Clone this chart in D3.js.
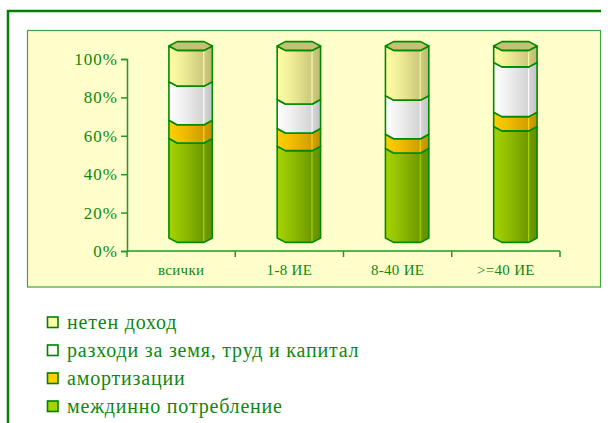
<!DOCTYPE html>
<html>
<head>
<meta charset="utf-8">
<script src="https://cdn.jsdelivr.net/npm/d3@7"></script>
<style>
  body { margin: 0; background: #fff; }
  svg { display: block; }
</style>
</head>
<body>
<div id="chart"></div>
<script>
// data
var categories = ["всички", "1-8 ИЕ", "8-40 ИЕ", ">=40 ИЕ"];
var seriesKeys = ["междинно потребление", "амортизации", "разходи за земя, труд и капитал", "нетен доход"];
var intermediate = [51.8, 47.8, 46.6, 58.1];
var depreciation = [9.5, 9.2, 7.4, 7.4];
var factorCosts = [20.1, 15.1, 20.1, 25.9];
var netIncome = [18.6, 27.9, 25.9, 8.6];
var yTicks = [0, 20, 40, 60, 80, 100];
var legendOrder = ["нетен доход", "разходи за земя, труд и капитал", "амортизации", "междинно потребление"];

var width = 608, height = 423;
var serif = "Liberation Serif";
var txtColor = "#0f870f";

var colors = {
  "междинно потребление": ["#a6d400", "#8fbc00", "#6f9a00"],
  "амортизации": ["#ffd000", "#f0bc00", "#d09f00"],
  "разходи за земя, труд и капитал": ["#ffffff", "#eeeeee", "#d4d4d4"],
  "нетен доход": ["#ffffa6", "#eeeb96", "#cdc97e"]
};

var rows = categories.map(function(c, i) {
  var r = {cat: c};
  r[seriesKeys[0]] = intermediate[i];
  r[seriesKeys[1]] = depreciation[i];
  r[seriesKeys[2]] = factorCosts[i];
  r[seriesKeys[3]] = netIncome[i];
  return r;
});

var stacked = d3.stack().keys(seriesKeys)(rows);

var svg = d3.select("#chart").append("svg")
    .attr("width", width)
    .attr("height", height);

var defs = svg.append("defs");
seriesKeys.forEach(function(k, i) {
  var g = defs.append("linearGradient").attr("id", "grad" + i)
      .attr("x1", "0").attr("x2", "1").attr("y1", "0").attr("y2", "0");
  var c = colors[k];
  g.append("stop").attr("offset", "0").attr("stop-color", c[0]);
  g.append("stop").attr("offset", "0.35").attr("stop-color", c[1]);
  g.append("stop").attr("offset", "0.78").attr("stop-color", c[2]);
  g.append("stop").attr("offset", "0.8").attr("stop-color", d3.color(c[1]).brighter(0.4));
  g.append("stop").attr("offset", "0.83").attr("stop-color", c[2]);
  g.append("stop").attr("offset", "1").attr("stop-color", d3.color(c[2]).darker(0.25));
});

// outer frame (top + left only)
svg.append("path")
    .attr("d", "M8,423V11H601")
    .attr("fill", "none")
    .attr("stroke", "#008000")
    .attr("stroke-width", 2.5);

// plot area
svg.append("rect")
    .attr("x", 27.5).attr("y", 30.5)
    .attr("width", 573).attr("height", 256.5)
    .attr("fill", "#ffffcc")
    .attr("stroke", "#3fa33f")
    .attr("stroke-width", 1.2);

var x = d3.scaleBand().domain(categories).range([127, 560]);
var y = d3.scaleLinear().domain([0, 100]).range([251, 59]);

// 3d depth shift of the cylinders
var dx = 9.5, dy = -13;
var halfW = 21.7, innerW = 13.5, capH = 4.4;

// y axis
var yAxis = svg.append("g")
    .attr("transform", "translate(127,0)")
    .call(d3.axisLeft(y).tickValues(yTicks).tickFormat(function(d) { return d + "%"; })
      .tickSize(6).tickPadding(3));
yAxis.attr("font-family", serif).attr("font-size", 17).attr("letter-spacing", 1);
yAxis.select(".domain").attr("stroke", "#229922").attr("stroke-width", 1.5);
yAxis.selectAll(".tick line").attr("stroke", "#229922").attr("stroke-width", 1.5);
yAxis.selectAll(".tick text").attr("fill", txtColor);

// x axis
var xAxis = svg.append("g")
    .attr("transform", "translate(0,251)")
    .call(d3.axisBottom(x).tickSize(0).tickPadding(0));
xAxis.attr("font-family", serif).attr("font-size", 15).attr("letter-spacing", 0.3);
xAxis.select(".domain").remove();
xAxis.append("line")
    .attr("x1", 127).attr("x2", 560)
    .attr("stroke", "#229922").attr("stroke-width", 1.5);
xAxis.selectAll(".bound")
    .data(d3.range(categories.length + 1))
    .enter().append("line")
    .attr("x1", function(i) { return 127 + i * x.step(); })
    .attr("x2", function(i) { return 127 + i * x.step(); })
    .attr("y1", 0).attr("y2", 6)
    .attr("stroke", "#229922").attr("stroke-width", 1.5);
xAxis.selectAll(".tick text")
    .attr("y", 24).attr("dy", 0)
    .attr("fill", txtColor);

// cylinders
function frontEdge(cx, cy) {
  return [[cx - halfW, cy], [cx - innerW, cy + capH], [cx + innerW, cy + capH], [cx + halfW, cy]];
}

stacked.forEach(function(layer, li) {
  svg.append("g").selectAll("path")
    .data(layer)
    .enter().append("path")
    .attr("d", function(d) {
      var cx = x(d.data.cat) + x.bandwidth() / 2 + dx;
      var top = frontEdge(cx, y(d[1]) + dy);
      var bot = frontEdge(cx, y(d[0]) + dy).reverse();
      return "M" + top.concat(bot).join("L") + "Z";
    })
    .attr("fill", "url(#grad" + li + ")")
    .attr("stroke", "#008a00")
    .attr("stroke-width", 1.6)
    .attr("stroke-linejoin", "round");
});

// top caps
var last = stacked[stacked.length - 1];
svg.append("g").selectAll("path")
  .data(last)
  .enter().append("path")
  .attr("d", function(d) {
    var cx = x(d.data.cat) + x.bandwidth() / 2 + dx;
    var cy = y(d[1]) + dy;
    var pts = [[cx - halfW, cy], [cx - innerW, cy - capH], [cx + innerW, cy - capH],
               [cx + halfW, cy], [cx + innerW, cy + capH], [cx - innerW, cy + capH]];
    return "M" + pts.join("L") + "Z";
  })
  .attr("fill", "#c4c176")
  .attr("stroke", "#008a00")
  .attr("stroke-width", 1.6)
  .attr("stroke-linejoin", "round");

// legend
var legend = svg.append("g").attr("transform", "translate(47,322)")
    .attr("font-family", serif).attr("font-size", 20).attr("letter-spacing", 0.8);
var item = legend.selectAll("g")
  .data(legendOrder)
  .enter().append("g")
  .attr("transform", function(d, i) { return "translate(0," + (i * 28) + ")"; });
item.append("rect")
  .attr("x", 0.5).attr("y", -5)
  .attr("width", 10.5).attr("height", 10.5)
  .attr("fill", function(d) { return colors[d][0]; })
  .attr("stroke", "#008000")
  .attr("stroke-width", 1.6);
item.append("text")
  .attr("x", 20).attr("y", 0).attr("dy", "0.35em")
  .attr("fill", txtColor)
  .text(function(d) { return d; });
</script>
</body>
</html>
